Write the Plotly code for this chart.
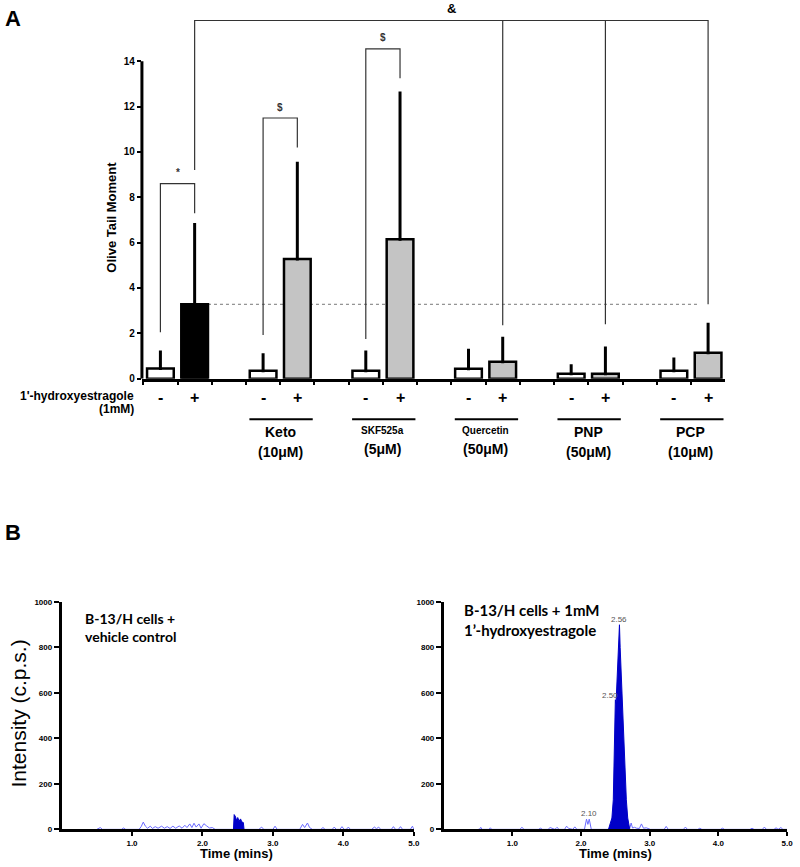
import plotly.graph_objects as go

W, H = 800, 867

# ---------------- Panel A data ----------------
bar_pos = [0, 1, 3, 4, 6, 7, 9, 10, 12, 13, 15, 16]
bar_mean = [0.45, 3.28, 0.35, 5.28, 0.35, 6.15, 0.44, 0.75, 0.22, 0.22, 0.35, 1.14]
bar_upper = [1.18, 6.8, 1.05, 9.5, 1.18, 12.6, 1.25, 1.78, 0.57, 1.35, 0.87, 2.4]
bar_color = ['white', 'black', 'white', '#c4c4c4', 'white', '#c4c4c4',
             'white', '#c4c4c4', 'white', '#c4c4c4', 'white', '#c4c4c4']
bar_sign = ['-', '+'] * 6
group_names = ['Keto', 'SKF525a', 'Quercetin', 'PNP', 'PCP']
group_doses = ['(10μM)', '(5μM)', '(50μM)', '(50μM)', '(10μM)']
group_name_size = [14, 10, 10, 14, 14]
yticks_A = [0, 2, 4, 6, 8, 10, 12, 14]

# ---------------- Panel B data (chromatograms) ----------------
# vehicle control: baseline noise
veh_noise_t = [0.50, 0.55, 0.58, 0.85, 0.88, 0.91, 1.10, 1.13, 1.16, 1.19, 1.22, 1.26, 1.29,
               1.33, 1.37, 1.42, 1.46, 1.50, 1.54, 1.58, 1.62, 1.67, 1.71, 1.75, 1.78,
               1.82, 1.85, 1.88, 1.91, 1.95, 1.98, 2.02, 2.06, 2.10, 2.14, 2.18, 2.44,
               2.60, 2.80, 2.84, 2.87, 3.00, 3.03, 3.06, 3.38, 3.42, 3.45, 3.49, 3.52,
               3.56, 3.68, 3.71, 3.74, 3.84, 3.87, 3.90, 3.95, 3.98, 4.01, 4.04, 4.07,
               4.10, 4.40, 4.44, 4.47, 4.50, 4.53, 4.68, 4.71, 4.74, 4.78, 4.81, 4.84,
               4.95, 4.98, 5.00]
veh_noise_v = [0, 8, 0, 0, 6, 0, 0, 12, 32, 14, 5, 14, 4,
               12, 5, 14, 5, 12, 4, 14, 5, 15, 5, 18, 8,
               24, 8, 27, 10, 24, 5, 25, 15, 6, 8, 0, 0,
               0, 0, 10, 0, 0, 14, 0, 0, 22, 8, 28, 8,
               0, 0, 8, 0, 0, 10, 0, 0, 12, 0, 0, 10,
               0, 0, 10, 3, 10, 0, 0, 12, 0, 0, 12, 0,
               0, 14, 0]
veh_peak_t = [2.44, 2.45, 2.47, 2.48, 2.50, 2.52, 2.54, 2.56, 2.58, 2.59]
veh_peak_v = [0, 65, 55, 40, 52, 36, 46, 32, 30, 0]

# 1'-hydroxyestragole: baseline noise
hyd_noise_t = [0.50, 0.52, 0.54, 0.56, 0.66, 0.68, 0.70, 1.11, 1.14, 1.17, 1.38, 1.41, 1.44,
               1.52, 1.55, 1.58, 1.62, 1.65, 1.68, 1.76, 1.79, 1.82, 1.88, 1.91, 1.94,
               2.05, 2.08, 2.10, 2.12, 2.15, 2.38, 2.71, 2.73, 2.75, 2.78, 2.81, 2.85,
               2.88, 2.91, 2.95, 2.98, 3.01, 3.21, 3.24, 3.27, 3.49, 3.52, 3.55, 3.70,
               3.73, 3.76, 4.03, 4.06, 4.09, 4.46, 4.49, 4.52, 4.64, 4.67, 4.70, 4.81,
               4.84, 4.87, 4.91, 4.94, 5.00]
hyd_noise_v = [0, 0, 9, 0, 0, 7, 0, 0, 9, 0, 0, 5, 0,
               0, 8, 3, 0, 9, 0, 0, 14, 4, 0, 11, 0,
               0, 45, 22, 45, 0, 0, 5, 28, 6, 9, 5, 4,
               24, 5, 7, 3, 0, 0, 13, 0, 0, 10, 0, 0,
               5, 0, 0, 5, 0, 0, 5, 0, 0, 10, 0, 0,
               7, 0, 8, 0, 0]
hyd_peak_t = [2.40, 2.43, 2.45, 2.47, 2.49, 2.50, 2.51, 2.53, 2.55, 2.56, 2.57, 2.59,
              2.61, 2.63, 2.66, 2.68, 2.71]
hyd_peak_v = [0, 25, 50, 130, 400, 570, 555, 720, 860, 900, 800, 640,
              480, 290, 130, 50, 0]
peak_labels = ['2.56', '2.50', '2.10']
peak_label_t = [2.56, 2.42, 2.11]
peak_label_v = [925, 590, 72]

xticks_B = [1, 2, 3, 4, 5]
yticks_B = [0, 200, 400, 600, 800, 1000]


def px(x):
    return x / W


def py(y):
    return 1 - y / H


AR = 'Liberation Sans, Arial, sans-serif'
CAL = 'Lato, Open Sans, sans-serif'

fig = go.Figure()

# Bars with upper error bars
fig.add_trace(go.Bar(
    x=bar_pos, y=bar_mean, width=0.78,
    marker=dict(color=bar_color, line=dict(color='black', width=2.5)),
    error_y=dict(type='data', symmetric=False,
                 array=[u - m for u, m in zip(bar_upper, bar_mean)],
                 arrayminus=[0] * len(bar_mean),
                 thickness=3, width=1.5, color='black'),
    xaxis='x', yaxis='y', showlegend=False, hoverinfo='skip'))

# Chromatograms
fig.add_trace(go.Scatter(x=veh_noise_t, y=veh_noise_v, mode='lines',
                         line=dict(color='#6a6aff', width=1),
                         xaxis='x2', yaxis='y2', showlegend=False))
fig.add_trace(go.Scatter(x=veh_peak_t, y=veh_peak_v, mode='lines', fill='tozeroy',
                         line=dict(color='#0000c8', width=1), fillcolor='#0000c8',
                         xaxis='x2', yaxis='y2', showlegend=False))
fig.add_trace(go.Scatter(x=hyd_noise_t, y=hyd_noise_v, mode='lines',
                         line=dict(color='#6a6aff', width=1),
                         xaxis='x3', yaxis='y3', showlegend=False))
fig.add_trace(go.Scatter(x=hyd_peak_t, y=hyd_peak_v, mode='lines', fill='tozeroy',
                         line=dict(color='#0000c8', width=1), fillcolor='#0000c8',
                         xaxis='x3', yaxis='y3', showlegend=False))

shapes = []
annotations = []


def ann(**kw):
    kw.setdefault('showarrow', False)
    kw.setdefault('xanchor', 'center')
    kw.setdefault('yanchor', 'middle')
    annotations.append(kw)


# Panel A y-axis line (0..14 only)
shapes.append(dict(type='line', xref='x domain', yref='y', x0=0, x1=0, y0=0, y1=max(yticks_A),
                   line=dict(color='black', width=3)))

# dashed reference line at the 1'-hydroxyestragole mean
shapes.append(dict(type='line', xref='x', yref='y', x0=bar_pos[1] + 0.39, x1=bar_pos[-1] - 0.25,
                   y0=bar_mean[1], y1=bar_mean[1], layer='below',
                   line=dict(color='#777777', width=1, dash='dot')))

BR = dict(color='#333333', width=1.2)


def bracket(xl, yl, xr, yr, ytop):
    return dict(type='path', xref='x', yref='y',
                path=f'M {xl},{yl} L {xl},{ytop} L {xr},{ytop} L {xr},{yr}', line=BR)


# significance brackets
sig = [  # (left bar idx, left bottom, right bar idx, right bottom, top, symbol)
    (0, 2.05, 1, 7.3, 8.6, '*'),
    (2, 1.92, 3, 10.2, 11.5, '$'),
    (4, 1.75, 5, 13.25, 14.55, '$'),
]
for li, lb, ri, rb, top, sym in sig:
    shapes.append(bracket(bar_pos[li], lb, bar_pos[ri], rb, top))
    ann(x=(bar_pos[li] + bar_pos[ri]) / 2, y=top + 0.15, xref='x', yref='y',
        text=sym, yanchor='bottom',
        font=dict(family=AR, size=10, color='#333333', weight='bold'))

# '&' bracket
amp_top = 15.8
shapes.append(dict(type='path', xref='x', yref='y',
                   path=f'M {bar_pos[1]},9.2 L {bar_pos[1]},{amp_top} L {bar_pos[11]},{amp_top} L {bar_pos[11]},{bar_mean[1]}',
                   line=BR))
for idx, bottom in [(7, 2.36), (9, 2.4)]:
    shapes.append(dict(type='line', xref='x', yref='y', x0=bar_pos[idx], x1=bar_pos[idx],
                       y0=bottom, y1=amp_top, line=BR))
ann(x=8.5, y=amp_top + 0.1, xref='x', yref='y', text='&', yanchor='bottom',
    font=dict(family=AR, size=13, color='black', weight='bold'))

# +/- signs
for xp, s in zip(bar_pos, bar_sign):
    ann(x=xp, y=py(398), xref='x', yref='paper', text=s,
        font=dict(family=AR, size=16, color='black', weight='bold'))
ann(x=px(137), y=py(397), xref='paper', yref='paper', text="1'-hydroxyestragole",
    xanchor='right', font=dict(family=AR, size=12, color='black', weight='bold'))
ann(x=px(137), y=py(410), xref='paper', yref='paper', text='(1mM)',
    xanchor='right', font=dict(family=AR, size=12, color='black', weight='bold'))

# group underlines and labels
for g, (name, dose, nsz) in enumerate(zip(group_names, group_doses, group_name_size)):
    p0 = bar_pos[2 + 2 * g]
    shapes.append(dict(type='line', xref='x', yref='paper', x0=p0 - 0.4, x1=p0 + 1.45,
                       y0=py(420), y1=py(420), line=dict(color='black', width=2)))
    ann(x=p0 + 0.5, y=py(431 if nsz < 12 else 433), xref='x', yref='paper', text=name,
        font=dict(family=AR, size=nsz, color='black', weight='bold'))
    ann(x=p0 + 0.5, y=py(450 if nsz < 12 else 453), xref='x', yref='paper', text=dose,
        font=dict(family=AR, size=14, color='black', weight='bold'))

# Panel letters and titles
ann(x=px(13), y=py(15), xref='paper', yref='paper', text='A',
    font=dict(family=AR, size=22, color='black', weight='bold'))
ann(x=px(13), y=py(535), xref='paper', yref='paper', text='B',
    font=dict(family=AR, size=22, color='black', weight='bold'))
ann(x=px(112), y=py(216), xref='paper', yref='paper', text='Olive Tail Moment', textangle=-90,
    font=dict(family=AR, size=13, color='black', weight='bold'))
ann(x=px(19), y=py(718), xref='paper', yref='paper', text='Intensity (c.p.s.)', textangle=-90,
    font=dict(family=AR, size=21, color='black'))
for cx in (238, 620):
    ann(x=px(cx), y=py(851), xref='paper', yref='paper', text='Time (mins)', yanchor='top',
        borderpad=0, font=dict(family=AR, size=13, color='black', weight='bold'))

# chromatogram inner texts
ann(x=px(84), y=py(631), xref='paper', yref='paper',
    text='B-13/H cells +<br>vehicle control', align='left', xanchor='left',
    font=dict(family=CAL, size=14, color='black', weight='bold'))
ann(x=px(465), y=py(623), xref='paper', yref='paper',
    text='B-13/H cells + 1mM<br>1\u2019-hydroxyestragole', align='left', xanchor='left',
    font=dict(family=CAL, size=15, color='black', weight='bold'))
for lab, t, v in zip(peak_labels, peak_label_t, peak_label_v):
    ann(x=t, y=v, xref='x3', yref='y3', text=lab,
        font=dict(family=AR, size=8, color='#555555'))

tickA = dict(family=AR, size=10, color='black', weight='bold')
tickB = dict(family=AR, size=8, color='black', weight='bold')

baxis_x = dict(range=[0, 5], tickvals=xticks_B, ticktext=[f'{v:.1f}' for v in xticks_B],
               showline=True, linecolor='black', linewidth=2.5, ticks='outside', ticklen=4,
               tickwidth=2, tickcolor='black', showgrid=False, zeroline=False, tickfont=tickB)
baxis_y = dict(range=[0, 1000], tickvals=yticks_B, showline=True, linecolor='black',
               linewidth=2.5, ticks='outside', ticklen=5, tickwidth=2, tickcolor='black',
               showgrid=False, zeroline=False, tickfont=tickB)

fig.update_layout(
    width=W, height=H, margin=dict(l=0, r=0, t=0, b=0),
    paper_bgcolor='white', plot_bgcolor='rgba(0,0,0,0)', showlegend=False,
    xaxis=dict(domain=[px(143), px(730)], range=[-0.54, 16.48], anchor='y',
               showline=True, linecolor='black', linewidth=3,
               tickvals=[k + 0.5 for k in range(-1, 17)], ticks='outside', ticklen=3,
               tickwidth=2, tickcolor='black', showticklabels=False,
               showgrid=False, zeroline=False),
    yaxis=dict(domain=[py(379), py(2)], range=[0, (379 - 2) / 22.93], anchor='x',
               tickvals=yticks_A, ticks='outside', ticklen=4, tickwidth=2, tickcolor='black',
               showline=False, showgrid=False, zeroline=False, tickfont=tickA),
    xaxis2=dict(domain=[px(62), px(417)], anchor='y2', **baxis_x),
    yaxis2=dict(domain=[py(835), py(605)], anchor='x2', **baxis_y),
    xaxis3=dict(domain=[px(447), px(793)], anchor='y3', **baxis_x),
    yaxis3=dict(domain=[py(835), py(605)], anchor='x3', **baxis_y),
    shapes=shapes, annotations=annotations,
)

fig.write_html('out.html', config={'displayModeBar': False},
               post_script="document.body.style.margin='0px';document.body.style.overflow='hidden';")
